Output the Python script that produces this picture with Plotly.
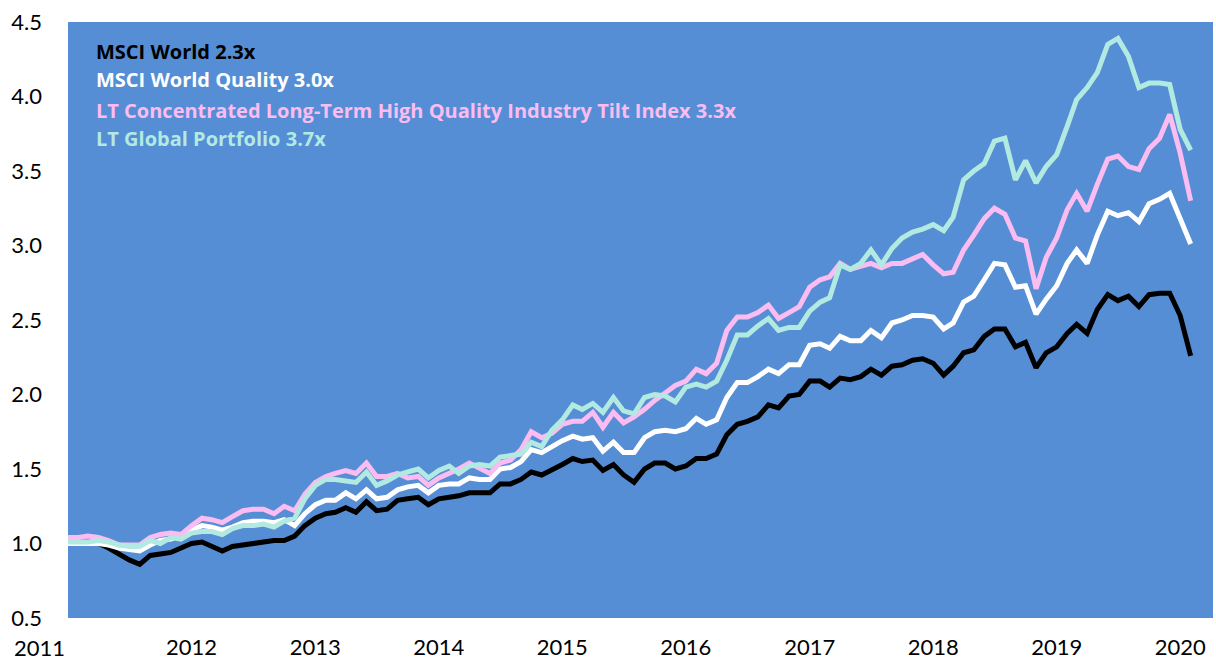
import pandas as pd
import plotly.graph_objects as go

# ---- data (monthly, Jan 2011 - Feb 2020) ----
dates = pd.date_range("2011-01-01", periods=110, freq="MS")

msci_world = [
    1.00, 1.00, 1.00, 1.00, 0.97, 0.93, 0.89, 0.86, 0.92, 0.93,
    0.94, 0.97, 1.00, 1.01, 0.98, 0.95, 0.98, 0.99, 1.00, 1.01,
    1.02, 1.02, 1.05, 1.12, 1.17, 1.20, 1.21, 1.24, 1.21, 1.28,
    1.22, 1.23, 1.29, 1.30, 1.31, 1.26, 1.30, 1.31, 1.32, 1.34,
    1.34, 1.34, 1.40, 1.40, 1.43, 1.48, 1.46, 1.49, 1.53, 1.57,
    1.55, 1.56, 1.49, 1.53, 1.46, 1.41, 1.50, 1.54, 1.54, 1.50,
    1.52, 1.57, 1.57, 1.60, 1.73, 1.80, 1.82, 1.85, 1.93, 1.91,
    1.99, 2.00, 2.09, 2.09, 2.05, 2.11, 2.10, 2.12, 2.17, 2.13,
    2.19, 2.20, 2.23, 2.24, 2.21, 2.13, 2.19, 2.28, 2.30, 2.39,
    2.44, 2.44, 2.32, 2.35, 2.18, 2.28, 2.32, 2.41, 2.47, 2.41,
    2.57, 2.67, 2.63, 2.66, 2.59, 2.67, 2.68, 2.68, 2.53, 2.26,
]

msci_world_quality = [
    1.00, 1.00, 1.00, 1.00, 0.99, 0.97, 0.96, 0.95, 0.99, 1.02,
    1.03, 1.06, 1.09, 1.12, 1.11, 1.09, 1.11, 1.14, 1.15, 1.15,
    1.14, 1.16, 1.12, 1.20, 1.26, 1.29, 1.29, 1.34, 1.30, 1.36,
    1.30, 1.31, 1.36, 1.38, 1.39, 1.34, 1.39, 1.40, 1.40, 1.44,
    1.43, 1.43, 1.50, 1.51, 1.55, 1.63, 1.61, 1.65, 1.69, 1.72,
    1.70, 1.71, 1.62, 1.68, 1.61, 1.61, 1.71, 1.75, 1.76, 1.75,
    1.77, 1.84, 1.80, 1.83, 1.98, 2.08, 2.08, 2.12, 2.17, 2.14,
    2.20, 2.20, 2.33, 2.34, 2.31, 2.39, 2.36, 2.36, 2.43, 2.38,
    2.48, 2.50, 2.53, 2.53, 2.52, 2.44, 2.48, 2.62, 2.66, 2.77,
    2.88, 2.87, 2.72, 2.73, 2.54, 2.64, 2.73, 2.88, 2.97, 2.88,
    3.07, 3.23, 3.20, 3.22, 3.16, 3.28, 3.31, 3.35, 3.18, 3.01,
]

lt_concentrated = [
    1.04, 1.04, 1.05, 1.04, 1.02, 0.99, 0.99, 0.99, 1.04, 1.06,
    1.07, 1.06, 1.12, 1.17, 1.16, 1.14, 1.18, 1.22, 1.23, 1.23,
    1.20, 1.25, 1.22, 1.33, 1.41, 1.45, 1.47, 1.49, 1.47, 1.54,
    1.45, 1.45, 1.47, 1.44, 1.45, 1.39, 1.44, 1.47, 1.50, 1.54,
    1.51, 1.47, 1.54, 1.56, 1.63, 1.75, 1.71, 1.74, 1.80, 1.82,
    1.82, 1.88, 1.78, 1.88, 1.81, 1.85, 1.90, 1.96, 2.01, 2.06,
    2.09, 2.17, 2.14, 2.21, 2.43, 2.52, 2.52, 2.55, 2.60, 2.51,
    2.55, 2.59, 2.72, 2.77, 2.79, 2.88, 2.84, 2.86, 2.88, 2.85,
    2.88, 2.88, 2.91, 2.94, 2.87, 2.81, 2.82, 2.97, 3.07, 3.18,
    3.25, 3.21, 3.05, 3.03, 2.71, 2.92, 3.05, 3.24, 3.35, 3.23,
    3.41, 3.58, 3.60, 3.53, 3.51, 3.65, 3.72, 3.88, 3.62, 3.30,
]

lt_global = [
    1.01, 1.01, 1.01, 1.02, 1.01, 0.99, 0.98, 0.98, 1.02, 1.00,
    1.04, 1.03, 1.07, 1.08, 1.08, 1.06, 1.10, 1.12, 1.12, 1.13,
    1.11, 1.15, 1.17, 1.30, 1.39, 1.43, 1.43, 1.42, 1.41, 1.48,
    1.39, 1.42, 1.46, 1.48, 1.50, 1.44, 1.49, 1.52, 1.47, 1.52,
    1.53, 1.52, 1.58, 1.59, 1.60, 1.68, 1.65, 1.76, 1.83, 1.93,
    1.90, 1.94, 1.88, 1.98, 1.89, 1.87, 1.98, 2.00, 1.99, 1.95,
    2.05, 2.07, 2.05, 2.09, 2.23, 2.40, 2.40, 2.46, 2.51, 2.43,
    2.45, 2.45, 2.56, 2.62, 2.65, 2.87, 2.84, 2.88, 2.97, 2.87,
    2.98, 3.05, 3.09, 3.11, 3.14, 3.10, 3.19, 3.44, 3.50, 3.55,
    3.70, 3.72, 3.44, 3.57, 3.42, 3.53, 3.61, 3.80, 3.98, 4.06,
    4.16, 4.35, 4.39, 4.27, 4.06, 4.09, 4.09, 4.08, 3.78, 3.64,
]

series_names = [
    "MSCI World 2.3x",
    "MSCI World Quality 3.0x",
    "LT Concentrated Long-Term High Quality Industry Tilt Index 3.3x",
    "LT Global Portfolio 3.7x",
]
series_values = [msci_world, msci_world_quality, lt_concentrated, lt_global]
series_colors = ["#000000", "#FFFFFF", "#FBBCF2", "#B2EAE2"]

year_ticks = [f"{y}-01-01" for y in range(2012, 2021)]
year_labels = [str(y) for y in range(2012, 2021)]
y_ticks = [0.5, 1.0, 1.5, 2.0, 2.5, 3.0, 3.5, 4.0, 4.5]

BG = "#558ED5"
TICK_FONT = "Lato"
LEGEND_FONT = "Open Sans"

fig = go.Figure()
for name, vals, col in zip(series_names, series_values, series_colors):
    fig.add_trace(go.Scatter(
        x=dates, y=vals, mode="lines", name=name,
        line=dict(color=col, width=5, shape="linear"),
        showlegend=False,
    ))

# colored-text legend
legend_y = [0.951, 0.903, 0.852, 0.804]
for name, col, yy in zip(series_names, series_colors, legend_y):
    fig.add_annotation(
        text=f"<b>{name}</b>", xref="paper", yref="paper",
        x=0.0227, y=yy, xanchor="left", yanchor="middle",
        showarrow=False, font=dict(family=LEGEND_FONT, size=20, color=col),
    )

# first-year label (sits left of the plot edge in the original)
fig.add_annotation(
    text="2011", xref="paper", yref="paper", x=-0.0245, y=-0.0503,
    xanchor="center", yanchor="middle", showarrow=False,
    font=dict(family=TICK_FONT, size=22, color="#000000"),
)

fig.update_layout(
    width=1216, height=662,
    margin=dict(l=68, r=3, t=22, b=44),
    paper_bgcolor="#FFFFFF",
    plot_bgcolor=BG,
    font=dict(family=TICK_FONT, size=22, color="#000000"),
    xaxis=dict(
        type="date", automargin=False,
        range=["2011-01-01", "2020-04-07"],
        tickvals=year_ticks, ticktext=year_labels,
        showgrid=False, zeroline=False, showline=False,
        ticks="", ticklabelstandoff=14,
        tickfont=dict(family=TICK_FONT, size=22, color="#000000"),
    ),
    yaxis=dict(
        automargin=False,
        range=[0.5, 4.5], tickvals=y_ticks, tickformat=".1f",
        showgrid=False, zeroline=False, showline=False,
        ticks="", ticklabelstandoff=25,
        tickfont=dict(family=TICK_FONT, size=22, color="#000000"),
    ),
)

fig.write_html(
    "out.html",
    config={"displayModeBar": False},
    post_script="document.body.style.margin='0';document.body.style.padding='0';",
)
